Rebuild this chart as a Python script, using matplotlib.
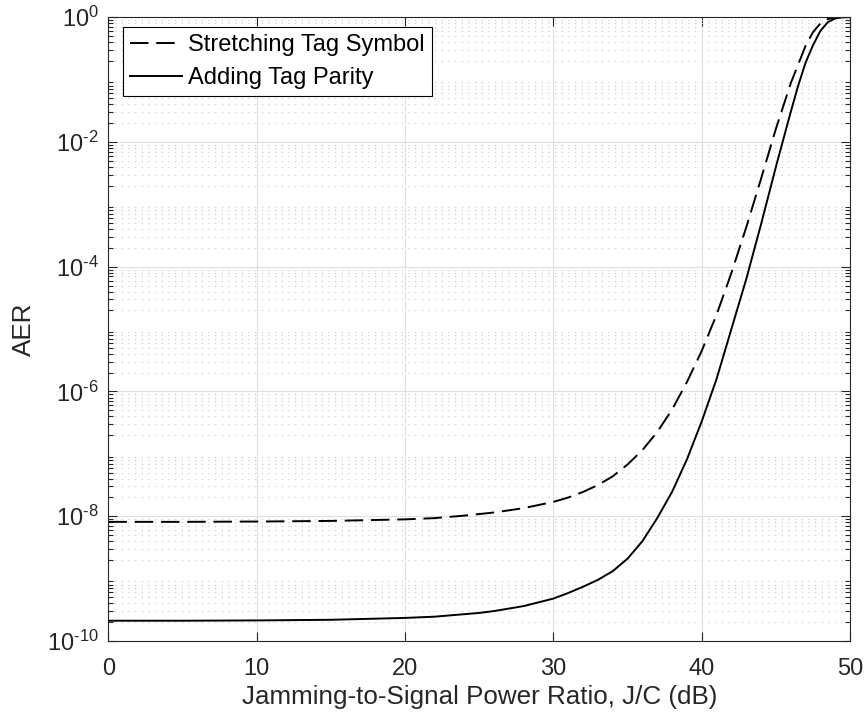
import math

import matplotlib
matplotlib.use('Agg')
import matplotlib.pyplot as plt
from matplotlib.ticker import FixedLocator, FuncFormatter, LogLocator, NullFormatter

plt.rcParams['font.family'] = ['Liberation Sans', 'DejaVu Sans']
plt.rcParams['mathtext.fontset'] = 'custom'
plt.rcParams['mathtext.rm'] = 'Liberation Sans'
plt.rcParams['mathtext.it'] = 'Liberation Sans:italic'

# J/C in dB and log10(AER)
js_stretch = [0, 5, 10, 15, 20, 22, 24, 26, 28, 30, 31, 32, 33, 34, 35, 36, 37, 38,
              39, 40, 41, 42, 43, 44, 45, 46, 47, 47.5, 48, 48.5, 49, 50]
aer_stretch = [-8.09, -8.09, -8.085, -8.075, -8.05, -8.03, -7.99, -7.94, -7.87, -7.77,
               -7.70, -7.61, -7.50, -7.36, -7.17, -6.94, -6.65, -6.29, -5.85, -5.35,
               -4.77, -4.10, -3.37, -2.59, -1.79, -1.06, -0.46, -0.24, -0.10, -0.03,
               0.0, 0.0]

js_parity = [0, 5, 10, 15, 20, 22, 24, 25, 26, 28, 30, 31, 32, 33, 34, 35, 36, 37, 38,
             39, 40, 41, 42, 43, 44, 45, 46, 46.5, 47, 47.5, 48, 48.5, 49, 49.5, 50]
aer_parity = [-9.675, -9.675, -9.67, -9.66, -9.63, -9.61, -9.57, -9.55, -9.52, -9.44,
              -9.32, -9.23, -9.13, -9.02, -8.88, -8.68, -8.40, -8.03, -7.61, -7.09,
              -6.48, -5.80, -5.00, -4.20, -3.32, -2.40, -1.52, -1.10, -0.73, -0.45,
              -0.22, -0.08, -0.02, 0.0, 0.0]

x_ticks = [0, 10, 20, 30, 40, 50]
y_ticks = [1e-10, 1e-8, 1e-6, 1e-4, 1e-2, 1e0]
labels = ['Stretching Tag Symbol', 'Adding Tag Parity']

axis_col = '#262626'


def exp_label(v, pos):
    e = int(round(math.log10(v)))
    if e < 0:
        return r'$\mathregular{10^{\text{-}%d}}$' % (-e)
    return r'$\mathregular{10^{%d}}$' % e


fig = plt.figure(figsize=(8.65, 7.17), dpi=100)
ax = fig.add_axes([0.1254, 0.106, 0.8573, 0.870])

ax.semilogy(js_stretch, [10 ** v for v in aer_stretch], color='black', lw=1.4,
            dashes=(9.5, 4), label=labels[0])
ax.semilogy(js_parity, [10 ** v for v in aer_parity], color='black', lw=1.4,
            label=labels[1])

ax.set_xlim(0, 50)
ax.set_ylim(1e-10, 1e0)
ax.xaxis.set_major_locator(FixedLocator(x_ticks))
ax.yaxis.set_major_locator(FixedLocator(y_ticks))
ax.yaxis.set_minor_locator(LogLocator(base=10, subs=range(2, 10), numticks=30))
ax.yaxis.set_minor_formatter(NullFormatter())
ax.yaxis.set_major_formatter(FuncFormatter(exp_label))

ax.grid(True, which='major', color='#dfdfdf', lw=0.8, ls='-')
ax.grid(True, which='minor', axis='y', color='#c4c4c4', lw=0.8, ls=(0, (1, 5)))
ax.set_axisbelow(True)

ax.tick_params(which='both', direction='in', top=True, right=True, colors=axis_col,
               labelsize=17)
ax.tick_params(which='major', length=6.5, width=0.8)
ax.tick_params(which='minor', length=3.5, width=0.8)
ax.tick_params(axis='x', which='major', pad=12)
ax.tick_params(axis='y', which='major', pad=7)
for s in ax.spines.values():
    s.set_color(axis_col)
    s.set_linewidth(0.8)

ax.set_xlabel('Jamming-to-Signal Power Ratio, J/C (dB)', fontsize=18.7, color=axis_col,
              labelpad=4)
ax.set_ylabel('AER', fontsize=18.7, color=axis_col, labelpad=8)

leg = ax.legend(loc='upper left', bbox_to_anchor=(0.0195, 0.984), borderaxespad=0,
                fontsize=17, frameon=True, fancybox=False, edgecolor='black',
                handlelength=2.2, borderpad=0.3, labelspacing=0.45,
                handletextpad=0.25)
leg.get_frame().set_linewidth(0.8)
leg.get_frame().set_alpha(1)

fig.savefig('out.png', dpi=100)
